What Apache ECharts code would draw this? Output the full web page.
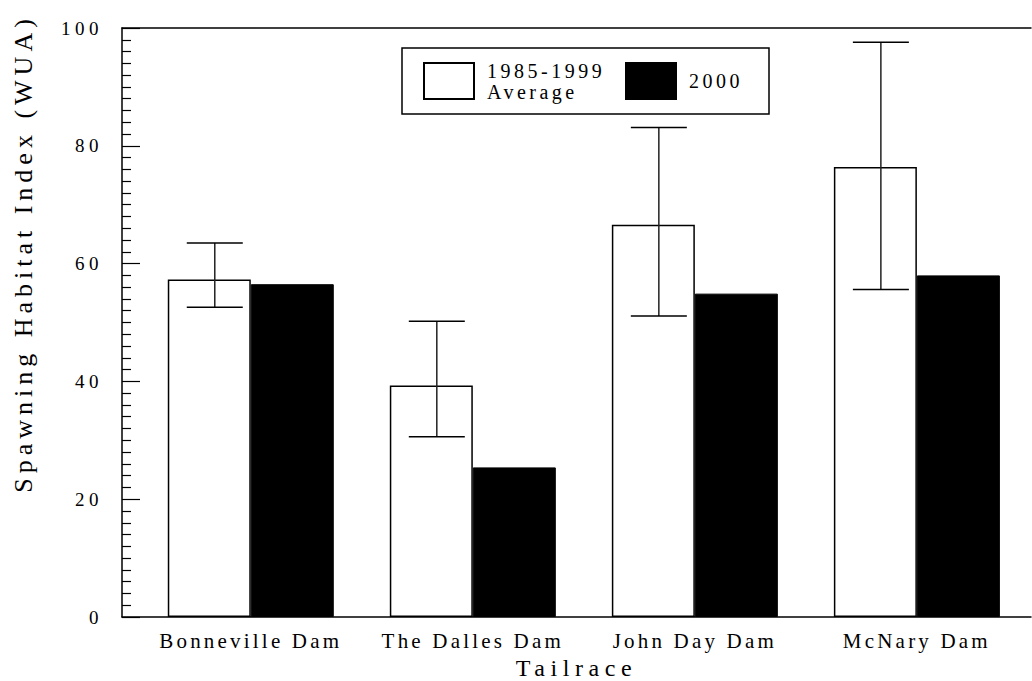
<!DOCTYPE html>
<html>
<head>
<meta charset="utf-8">
<script src="https://cdn.jsdelivr.net/npm/echarts@6/dist/echarts.min.js"></script>
<style>
  html, body { margin: 0; padding: 0; background: #fff; overflow: hidden; }
  #main { width: 1032px; height: 681px; }
  /* widen the tracking of the serif labels, per font size */
  #main text[style*="19px"] { letter-spacing: 4.5px; }
  #main text[style*="20px"] { letter-spacing: 3.5px; }
  #main text[style*="21px"] { letter-spacing: 3.2px; }
  #main text[style*="24px"] { letter-spacing: 5.6px; }
  #main text[style*="26px"] { letter-spacing: 5px; }
</style>
</head>
<body>
<div id="main"></div>
<script>
const categories = ['Bonneville Dam', 'The Dalles Dam', 'John Day Dam', 'McNary Dam'];
const avgValues = [57.3, 39.3, 66.6, 76.4];      // 1985-1999 average
const values2000 = [56.5, 25.4, 54.9, 58.0];     // 2000
const errLow = [52.6, 30.6, 51.1, 55.6];
const errHigh = [63.5, 50.2, 83.1, 97.6];
const yTicks = [0, 20, 40, 60, 80, 100];

const FONT = 'Liberation Serif';
const positions = categories.map((c, i) => i + 1);

const chart = echarts.init(document.getElementById('main'), null, { renderer: 'svg' });

chart.setOption({
  animation: false,
  backgroundColor: '#fff',
  grid: { left: 122, right: 1, top: 28, bottom: 64, outerBoundsMode: 'none', containLabel: false },
  legend: {
    left: 402,
    top: 48,
    orient: 'horizontal',
    icon: 'rect',
    itemWidth: 50,
    itemHeight: 36,
    itemGap: 18,
    padding: [12, 20, 12, 21],
    borderColor: '#000',
    borderWidth: 1.5,
    selectedMode: false,
    textStyle: { fontFamily: FONT, fontSize: 20, color: '#000', lineHeight: 21, padding: [0, 0, 0, 8] },
    data: [
      { name: '1985-1999\nAverage', textStyle: { width: 120 } },
      { name: '2000', textStyle: { width: 60 } }
    ]
  },
  xAxis: [
    {
      type: 'value',
      min: 0.42,
      max: 4.514,
      position: 'bottom',
      name: 'Tailrace',
      nameLocation: 'middle',
      nameGap: 37,
      nameTextStyle: { fontFamily: FONT, fontSize: 24, lineHeight: 24, color: '#000' },
      axisLine: { show: true, onZero: false, lineStyle: { color: '#000', width: 1.5 } },
      axisTick: { show: false },
      splitLine: { show: false },
      axisLabel: {
        customValues: positions,
        margin: 13,
        fontFamily: FONT,
        fontSize: 21,
        color: '#000',
        formatter: v => categories[Math.round(v) - 1] || ''
      }
    },
    {
      type: 'value',
      min: 0.42,
      max: 4.514,
      position: 'top',
      axisLine: { show: true, onZero: false, lineStyle: { color: '#000', width: 1.5 } },
      axisTick: { show: false },
      axisLabel: { show: false },
      splitLine: { show: false }
    }
  ],
  yAxis: {
    type: 'value',
    min: 0,
    max: 100,
    interval: 20,
    name: 'Spawning Habitat Index (WUA)',
    nameLocation: 'middle',
    nameGap: 86,
    nameTextStyle: { fontFamily: FONT, fontSize: 26, color: '#000', padding: [0, 0, 0, 138] },
    axisLine: { show: true, lineStyle: { color: '#000', width: 1.5 } },
    axisTick: { show: true, inside: true, length: 18, lineStyle: { color: '#000', width: 1.2 } },
    minorTick: { show: true, splitNumber: 10, length: 9, lineStyle: { color: '#000', width: 1.2 } },
    splitLine: { show: false },
    axisLabel: {
      margin: 19,
      fontFamily: FONT,
      fontSize: 19,
      color: '#000',
      customValues: yTicks
    }
  },
  series: [
    {
      name: '1985-1999\nAverage',
      type: 'bar',
      barWidth: 83,
      barGap: '0%',
      itemStyle: { color: '#fff', borderColor: '#000', borderWidth: 1.5 },
      data: positions.map((p, i) => [p, avgValues[i]]),
      z: 2
    },
    {
      name: '2000',
      type: 'bar',
      barWidth: 83,
      barGap: '0%',
      itemStyle: { color: '#000', borderColor: '#000', borderWidth: 1 },
      data: positions.map((p, i) => [p, values2000[i]]),
      z: 2
    },
    {
      name: 'range',
      type: 'custom',
      z: 3,
      data: positions.map((p, i) => [p, errLow[i], errHigh[i]]),
      renderItem: function (params, api) {
        const top = api.coord([api.value(0), api.value(2)]);
        const bot = api.coord([api.value(0), api.value(1)]);
        const x = top[0] - 36;
        const half = 28;
        const style = { stroke: '#000', lineWidth: 1.5 };
        return {
          type: 'group',
          children: [
            { type: 'line', shape: { x1: x, y1: top[1], x2: x, y2: bot[1] }, style: { stroke: '#222', lineWidth: 1.5 } },
            { type: 'line', shape: { x1: x - half, y1: top[1], x2: x + half, y2: top[1] }, style },
            { type: 'line', shape: { x1: x - half, y1: bot[1], x2: x + half, y2: bot[1] }, style }
          ]
        };
      }
    }
  ]
});
</script>
</body>
</html>
